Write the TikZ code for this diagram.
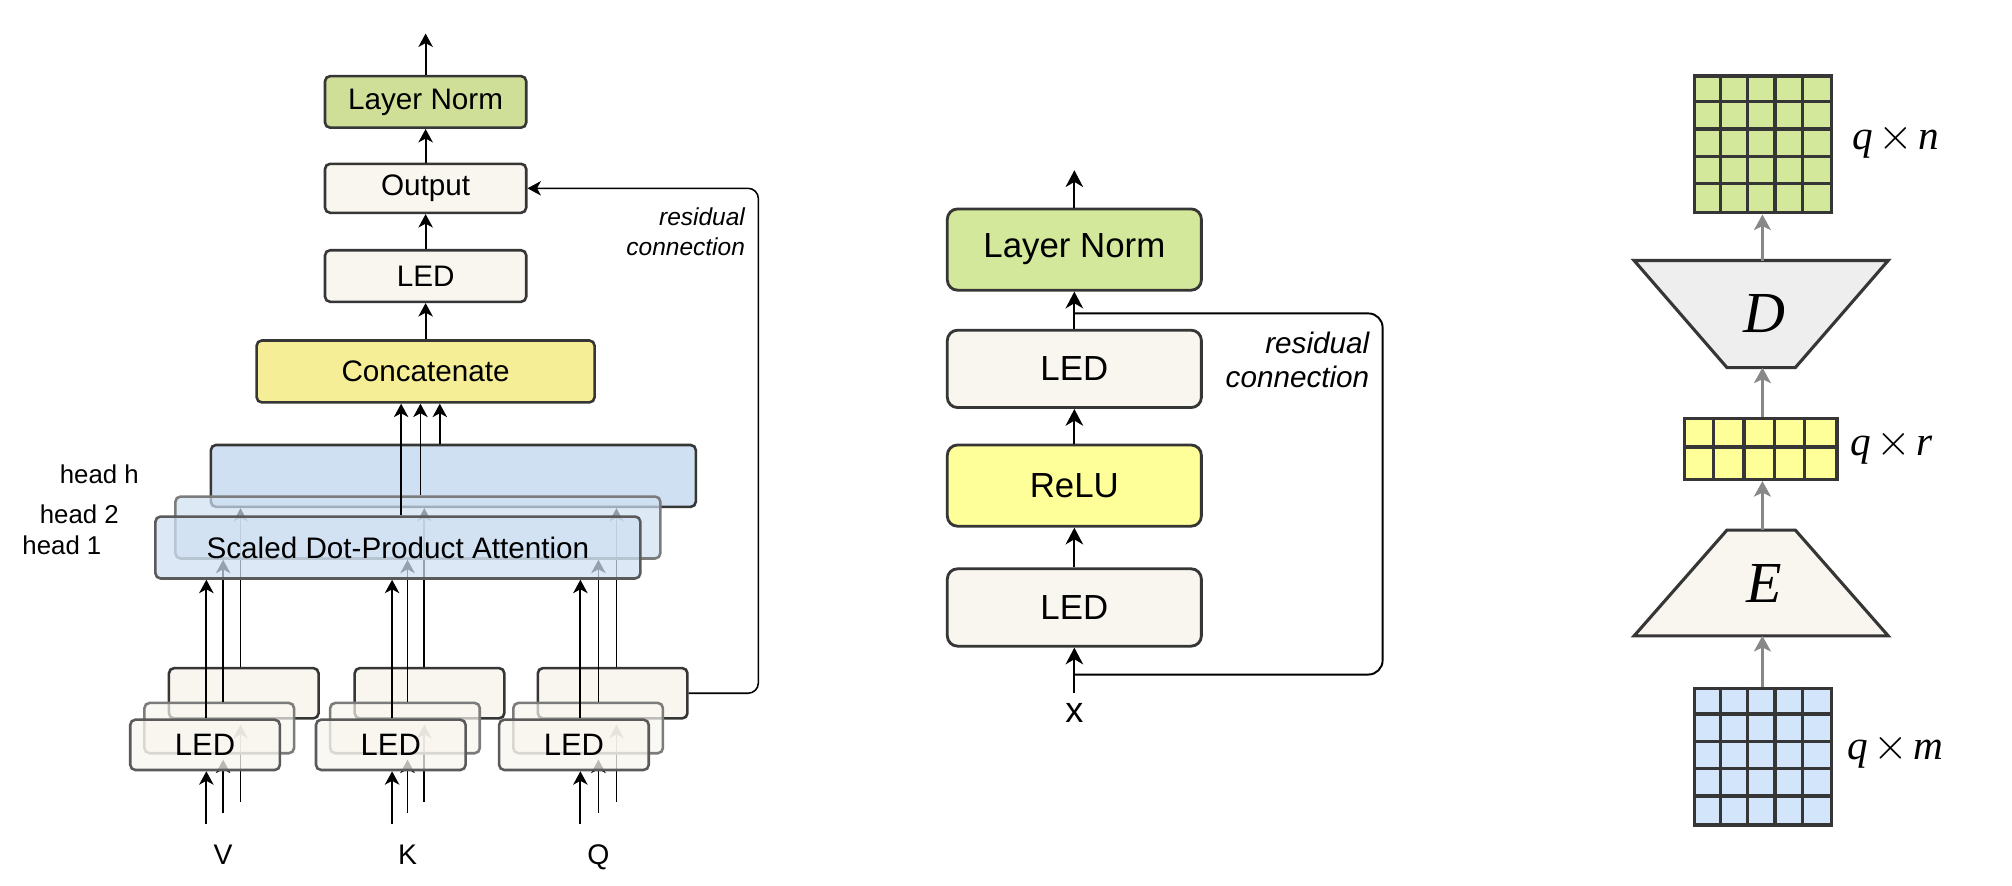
\documentclass[tikz,border=0pt]{standalone}
\usepackage{fontspec}
\setmainfont{Liberation Sans}
\newfontfamily\tms{Liberation Serif}
\usetikzlibrary{arrows.meta,calc}
\definecolor{bd}{HTML}{363636}
\definecolor{cream}{HTML}{F8F6EE}
\definecolor{lngA}{HTML}{D0DF98}
\definecolor{lngB}{HTML}{D4E89B}
\definecolor{catY}{HTML}{F5EE96}
\definecolor{reluY}{HTML}{FFFF99}
\definecolor{headB}{HTML}{CFE0F2}
\definecolor{gridBl}{HTML}{D2E5FA}
\definecolor{trapD}{HTML}{EEEEEE}
\definecolor{garrow}{HTML}{888888}
\definecolor{bdmid}{HTML}{7C7C7C}
\definecolor{bdfront}{HTML}{5A5A5A}
\begin{document}
\begin{tikzpicture}[x=0.5pt,y=-0.5pt,
  lbox/.style={draw=bd, line width=1pt, rounded corners=2pt, inner sep=0pt, font=\fontsize{11.5}{13}\selectfont},
  stk/.style={lbox, fill=cream, minimum width=58pt, minimum height=19.5pt, font=\fontsize{12}{14}\selectfont},
  hd/.style={lbox, fill=headB, minimum width=188pt, minimum height=24pt},
  mbox/.style={draw=bd, line width=1.1pt, rounded corners=4pt, inner sep=0pt, minimum width=98.5pt, font=\fontsize{13.5}{16}\selectfont},
  larr/.style={line width=0.7pt, -{Stealth[length=5.2pt,width=5.6pt,inset=1.5pt]}},
  marr/.style={line width=0.8pt, -{Stealth[length=6.5pt,width=6.8pt,inset=2pt]}},
  garr/.style={line width=1.3pt, draw=garrow, -{Stealth[length=6pt,width=6.5pt,inset=1.5pt]}},
  gridbox/.style={draw=bd, line width=1.3pt, inner sep=0pt},
  gline/.style={draw=bd, line width=1.3pt},
  trap/.style={draw=bd, line width=1.2pt, line join=miter},
  lbl/.style={inner sep=0pt, font=\fontsize{11}{13}\selectfont},
  hlbl/.style={inner sep=0pt, anchor=base east, font=\fontsize{10}{12}\selectfont},
  mathlbl/.style={inner sep=0pt, anchor=base west, font=\tms\fontsize{16}{18}\selectfont},
  biglbl/.style={inner sep=0pt, font=\tms\itshape\fontsize{22.5}{24}\selectfont},
]
\path[use as bounding box, fill=white] (0,0) rectangle (1560,686.9);

% ================= LEFT PANEL =================
\node[lbox, fill=lngA, minimum width=78pt, minimum height=20pt] (ln1) at (330,79) {Layer Norm};
\node[lbox, fill=cream, minimum width=78pt, minimum height=19pt] (out1) at (330,146) {Output};
\node[lbox, fill=cream, minimum width=78pt, minimum height=20pt] (led1) at (330,214) {LED};
\node[lbox, fill=catY, minimum width=131pt, minimum height=24pt] (cat) at (330,288) {Concatenate};
\coordinate (top1) at (330,26);
\draw[larr] (ln1.north) -- (top1);
\draw[larr] (out1.north) -- (ln1.south);
\draw[larr] (led1.north) -- (out1.south);
\draw[larr] (cat.north) -- (led1.south);

\coordinate (laV) at (160,639); \coordinate (lbV) at (173,630); \coordinate (lcV) at (186.5,621.5);
\coordinate (laK) at (304,639); \coordinate (lbK) at (316,630); \coordinate (lcK) at (329,621.5);
\coordinate (laQ) at (450,639); \coordinate (lbQ) at (464,630); \coordinate (lcQ) at (478,621.5);

% head h and back stacks
\node[hd] (headh) at (351.5,369) {};
\foreach \s/\x in {V/189,K/333,Q/475} \node[stk] (back\s) at (\x,537.5) {};
\foreach \s in {V,K,Q} {
  \draw[larr] (lc\s) -- ($(lc\s |- back\s.south)+(0,4)$);
  \draw[larr] (lc\s |- back\s.north) -- (lc\s |- headh.south);
}
% head 2 and middle stacks
\node[hd, draw=bdmid, fill opacity=0.7, text opacity=1] (head2) at (324,409) {};
\foreach \s/\x in {V/170,K/314,Q/456} \node[stk, draw=bdmid, fill opacity=0.7] (mid\s) at (\x,564.5) {};
\foreach \s in {V,K,Q} {
  \draw[larr] (lb\s) -- ($(lb\s |- mid\s.south)+(0,4)$);
  \draw[larr] (lb\s |- mid\s.north) -- (lb\s |- head2.south);
}
% head 1 and front stacks
\node[hd, draw=bdfront, fill opacity=0.72, text opacity=1] (head1) at (308.5,424.5) {Scaled Dot-Product Attention};
\foreach \s/\x in {V/159,K/303,Q/445} \node[stk, draw=bdfront, fill opacity=0.75, text opacity=1] (front\s) at (\x,577.5) {LED};
\foreach \s in {V,K,Q} {
  \draw[larr] (la\s) -- (la\s |- front\s.south);
  \draw[larr] (la\s |- front\s.north) -- (la\s |- head1.south);
}
% heads to concatenate
\coordinate (c1) at (311,0); \coordinate (c2) at (326,0); \coordinate (c3) at (341,0);
\draw[larr] (c1 |- head1.north) -- (c1 |- cat.south);
\draw[larr] (c2 |- head2.north) -- (c2 |- cat.south);
\draw[larr] (c3 |- headh.north) -- (c3 |- cat.south);
% residual
\coordinate (rl) at (588,0);
\draw[larr, line width=0.6pt, rounded corners=4pt] (backQ.east) -- (backQ.east -| rl) -- (out1.east -| rl) -- (out1.east);
\node[anchor=north east, align=right, inner sep=0pt, font=\itshape\fontsize{9.5}{11.6}\selectfont] (rt1) at (578,160.5) {residual\\connection};
% labels
\node[hlbl] (lh) at (108,374.7) {head h};
\node[hlbl] (l2) at (92.5,405.8) {head 2};
\node[hlbl] (l1) at (79,430.3) {head 1};
\node[lbl, anchor=base] (lV) at (173,670.6) {V};
\node[lbl, anchor=base] (lK) at (316,670.6) {K};
\node[lbl, anchor=base] (lQ) at (464,670.6) {Q};

% ================= MIDDLE PANEL =================
\node[mbox, fill=lngB, minimum height=31.5pt] (mln) at (833,193.5) {Layer Norm};
\node[mbox, fill=cream, minimum height=30pt] (mled2) at (833,286) {LED};
\node[mbox, fill=reluY, minimum height=31.5pt] (relu) at (833,376.5) {ReLU};
\node[mbox, fill=cream, minimum height=30pt] (mled1) at (833,471) {LED};
\node[inner sep=4pt, font=\fontsize{14}{16}\selectfont] (xin) at (833,553) {x};
\coordinate (mtop) at (833,132);
\draw[marr] (mln.north) -- (mtop);
\draw[marr] (mled2.north) -- (mln.south);
\draw[marr] (relu.north) -- (mled2.south);
\draw[marr] (mled1.north) -- (relu.south);
\draw[marr] (xin.north) -- (mled1.south);
\coordinate (rj1) at (833,523); \coordinate (rj2) at (833,243); \coordinate (rm) at (1072,0);
\draw[line width=0.75pt, rounded corners=5.5pt] (rj1) -- (rj1 -| rm) -- (rj2 -| rm) -- (rj2);
\node[anchor=north east, align=right, inner sep=0pt, font=\itshape\fontsize{11.5}{13}\selectfont] (rt2) at (1062,257) {residual\\connection};

% ================= RIGHT PANEL =================
\node[gridbox, fill=lngB, minimum width=53pt, minimum height=53pt] (gtop) at (1367,112) {};
\node[gridbox, fill=reluY, minimum width=59pt, minimum height=23.65pt] (gmid) at (1365.2,348) {};
\node[gridbox, fill=gridBl, minimum width=53pt, minimum height=53pt] (gbot) at (1367,586.7) {};
\foreach \i in {1,...,4} {
  \draw[gline] ($(gtop.north west)+(\i*21.2,0)$) -- ($(gtop.south west)+(\i*21.2,0)$);
  \draw[gline] ($(gtop.north west)+(0,\i*21.2)$) -- ($(gtop.north east)+(0,\i*21.2)$);
  \draw[gline] ($(gbot.north west)+(\i*21.2,0)$) -- ($(gbot.south west)+(\i*21.2,0)$);
  \draw[gline] ($(gbot.north west)+(0,\i*21.2)$) -- ($(gbot.north east)+(0,\i*21.2)$);
  \draw[gline] ($(gmid.north west)+(\i*23.6,0)$) -- ($(gmid.south west)+(\i*23.6,0)$);
}
\draw[gline] ($(gmid.north west)+(0,23.65)$) -- ($(gmid.north east)+(0,23.65)$);

\draw[trap, fill=trapD] (1267,202) -- (1464,202) -- (1392,285) -- (1339,285) -- cycle;
\draw[trap, fill=cream] (1339,411) -- (1392,411) -- (1464,493) -- (1267,493) -- cycle;
\node[biglbl] (Dl) at (1368,243) {D};
\node[biglbl] (El) at (1368,452.6) {E};
\coordinate (Dtop) at (1366.5,202); \coordinate (Dbot) at (1366.5,285);
\coordinate (Etop) at (1366.5,411); \coordinate (Ebot) at (1366.5,493);
\draw[garr] (Dtop) -- (Dtop |- gtop.south);
\draw[garr] (Dbot |- gmid.north) -- (Dbot);
\draw[garr] (Etop) -- (Etop |- gmid.south);
\draw[garr] (Ebot |- gbot.north) -- (Ebot);

\node[mathlbl] (qn) at (1436,115.8) {\itshape q\hspace{.13em}\upshape$\times$\hspace{.13em}\itshape n};
\node[mathlbl] (qr) at (1434.3,352.8) {\itshape q\hspace{.13em}\upshape$\times$\hspace{.13em}\itshape r};
\node[mathlbl] (qm) at (1431.7,589.2) {\itshape q\hspace{.13em}\upshape$\times$\hspace{.13em}\itshape m};
\end{tikzpicture}
\end{document}
